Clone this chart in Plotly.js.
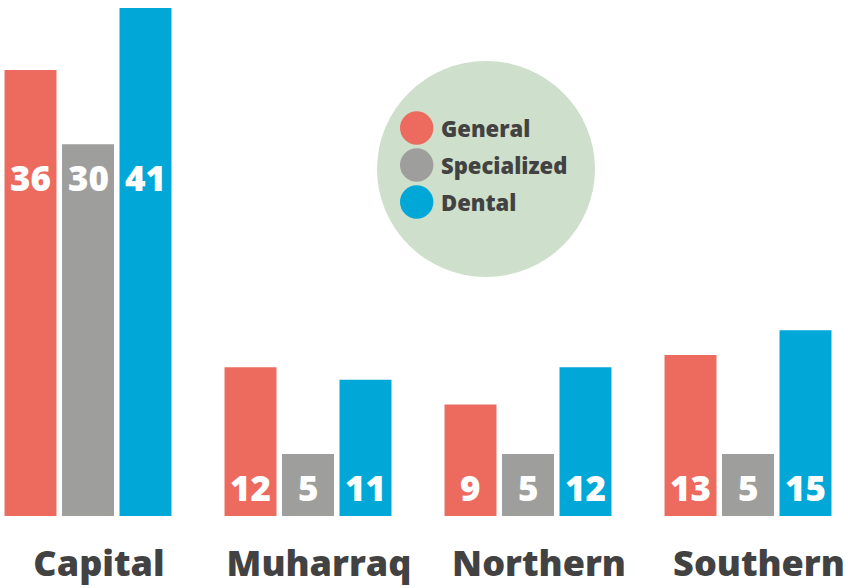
<!DOCTYPE html>
<html><head><meta charset="utf-8">
<script src="https://cdn.plot.ly/plotly-3.0.1.min.js"></script>
<style>html,body{margin:0;padding:0;background:#fff}#chart{width:848px;height:588px}</style>
</head><body><div id="chart"></div>
<script>
const categories = ["Capital", "Muharraq", "Northern", "Southern"];
const seriesNames = ["General", "Specialized", "Dental"];
const general = [36, 12, 9, 13];
const specialized = [30, 5, 5, 5];
const dental = [41, 11, 12, 15];
const colors = ["#ED6A5F", "#9E9E9D", "#00A7D7"];

const W = 848, H = 588, B = 72, PH = H - B;
const series = [general, specialized, dental];
const FONT = "Open Sans, Noto Sans, sans-serif";
const DARK = "#424242";

const traces = series.map((vals, i) => ({
  type: "bar", x: categories, y: vals, name: seriesNames[i],
  marker: {color: colors[i]}, showlegend: false, hoverinfo: "skip"
}));

const pitch = 57.5;
const annotations = [];
categories.forEach((c, ci) => {
  const minV = Math.min(...series.map(s => s[ci]));
  series.forEach((s, si) => {
    annotations.push({
      x: c, xref: "x", y: minV, yref: "y", xshift: (si - 1) * pitch, yshift: -33,
      yanchor: "middle", xanchor: "center", showarrow: false,
      text: String(s[ci]), font: {family: FONT, size: 35, color: "#ffffff", weight: 800}
    });
  });
});

const px = v => v / W, py = v => 1 - v / PH;
const shapes = [{
  type: "circle", xref: "paper", yref: "paper",
  x0: px(377), x1: px(595), y0: py(277), y1: py(61),
  fillcolor: "#CEDFCC", line: {width: 0}, layer: "below"
}];
seriesNames.forEach((n, i) => {
  const yc = 128 + i * 37;
  shapes.push({
    type: "circle", xref: "paper", yref: "paper",
    x0: px(400), x1: px(433.4), y0: py(yc + 16.7), y1: py(yc - 16.7),
    fillcolor: colors[i], line: {width: 0}
  });
  annotations.push({
    x: px(439), xref: "paper", y: py(yc), yref: "paper", xanchor: "left", yanchor: "middle",
    showarrow: false, text: n, font: {family: FONT, size: 22, color: DARK, weight: 800}
  });
});

const layout = {
  width: W, height: H,
  margin: {l: 0, r: 0, t: 0, b: B, pad: 0},
  paper_bgcolor: "#ffffff", plot_bgcolor: "#ffffff",
  barmode: "group", bargap: 0.216, bargroupgap: 0.096,
  xaxis: {
    type: "category", range: [-0.4, (W - 88) / 220], showgrid: false, zeroline: false,
    showline: false, ticks: "", ticklabelstandoff: 23, ticklabelshift: 11, automargin: false,
    tickfont: {family: FONT, size: 36, color: DARK, weight: 800}, fixedrange: true
  },
  yaxis: {range: [0, PH / 12.39], visible: false, showgrid: false, zeroline: false, fixedrange: true},
  shapes: shapes, annotations: annotations, showlegend: false
};
Plotly.newPlot("chart", traces, layout, {staticPlot: true, displayModeBar: false});
</script></body></html>
